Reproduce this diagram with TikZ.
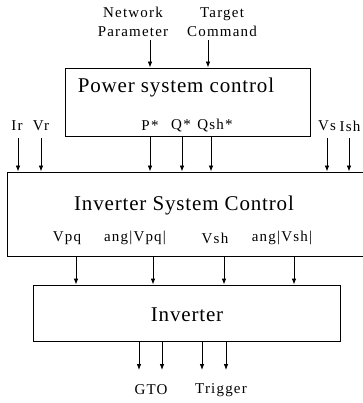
\documentclass[tikz,border=0pt]{standalone}
\usepackage{fontspec}
\setmainfont{Liberation Serif}
\usepackage{tikz}
\usetikzlibrary{
    positioning,
    arrows.meta
}

\begin{document}
\begin{tikzpicture}[
    x=1pt, y=-1pt,
    block/.style={rectangle, draw, line width=0.8pt, inner sep=0pt},
    title/.style={font=\fontsize{21}{24}\selectfont\addfontfeature{LetterSpace=4}, inner sep=0pt},
    lbl/.style={font=\fontsize{15}{18}\selectfont\addfontfeature{LetterSpace=8}, align=center, inner sep=0pt},
    arrow/.style={line width=0.8pt, -{Latex[length=6pt,width=4.5pt]}}
]
\useasboundingbox (0,0) rectangle (362,403);

% blocks
\node[block, minimum width=245pt, minimum height=68pt] (psc) at (187.5,102) {};
\node[block, minimum width=373pt, minimum height=84pt] (isc) at (193.5,214) {};
\node[block, minimum width=307pt, minimum height=56pt] (inv) at (186.5,313) {};

\node[title] (psct) at (176,87) {Power system control};
\node[title] (isct) at (184,205) {Inverter System Control};
\node[title] (invt) at (187,315) {Inverter};

% inputs of the power system control
\node[lbl, font=\fontsize{15}{19}\selectfont\addfontfeature{LetterSpace=8}] (net) at (133,22) {Network\\Parameter};
\node[lbl, font=\fontsize{15}{19}\selectfont\addfontfeature{LetterSpace=8}] (tgt) at (222,22) {Target\\Command};
\coordinate (netin) at (150,40);
\coordinate (tgtin) at (208,40);
\draw[arrow] (netin) -- (netin |- psc.north);
\draw[arrow] (tgtin) -- (tgtin |- psc.north);

% references
\node[lbl] (pref) at (150,126) {P*};
\node[lbl] (qref) at (181,126) {Q*};
\node[lbl] (qshref) at (215,126) {Qsh*};
\foreach \x in {150,182,211}
    \draw[arrow] (\x,136) coordinate (r\x) -- (r\x |- isc.north);

% measured quantities
\node[lbl] (ir) at (17,126) {Ir};
\node[lbl] (vr) at (41,126) {Vr};
\node[lbl] (vs) at (327,126) {Vs};
\node[lbl] (ish) at (350,126) {Ish};
\foreach \x in {18,41,327,349}
    \draw[arrow] (\x,138) coordinate (m\x) -- (m\x |- isc.north);

% inverter commands
\node[lbl] (vpq) at (67,238) {Vpq};
\node[lbl] (angvpq) at (135,238) {ang|Vpq|};
\node[lbl] (vsh) at (215,238) {Vsh};
\node[lbl] (angvsh) at (282,238) {ang|Vsh|};
\foreach \x in {76,153,224,294}
    \draw[arrow] (\x,256) coordinate (c\x) -- (c\x |- inv.north);

% gate signals
\foreach \x in {139,162,202,226} {
    \coordinate (o\x) at (\x,370);
    \draw[arrow] (o\x |- inv.south) -- (o\x);
}
\node[lbl] (gto) at (151,390) {GTO};
\node[lbl] (trig) at (221,390) {Trigger};
\end{tikzpicture}
\end{document}
